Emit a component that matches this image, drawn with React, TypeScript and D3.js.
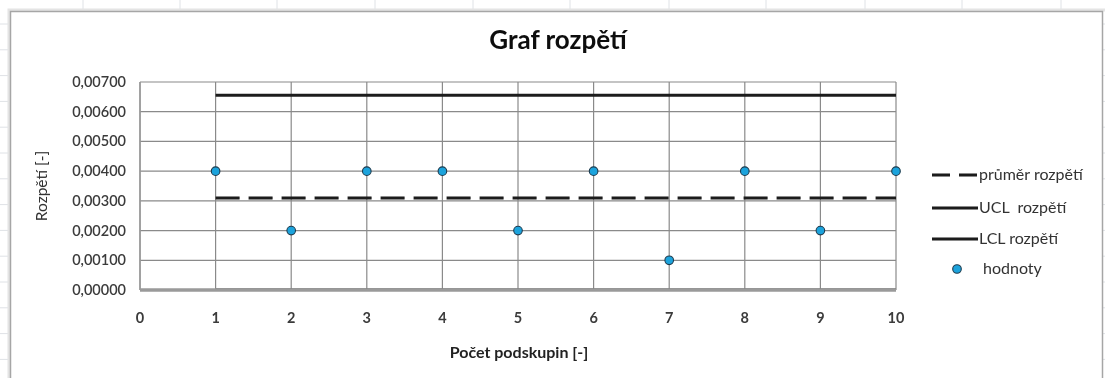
import React from "react";
import * as d3 from "d3";

// Range chart (R chart) of subgroup ranges
const subgroups = [1, 2, 3, 4, 5, 6, 7, 8, 9, 10];
const ranges = [0.004, 0.002, 0.004, 0.004, 0.002, 0.004, 0.001, 0.004, 0.002, 0.004];
const meanRange = 0.0031;
const uclRange = 0.00655;
const lclRange = 0;
const xTicks = [0, 1, 2, 3, 4, 5, 6, 7, 8, 9, 10];
const yTicks = [0, 0.001, 0.002, 0.003, 0.004, 0.005, 0.006, 0.007];
const legendLabels = ["průměr rozpětí", "UCL  rozpětí", "LCL rozpětí", "hodnoty"];

const W = 1105;
const H = 378;
const FONT = "Lato, 'Open Sans', sans-serif";

export default function App() {
  const plot = { left: 140, right: 896, top: 82, bottom: 290 };
  const x = d3.scaleLinear().domain([0, 10]).range([plot.left, plot.right]);
  const y = d3.scaleLinear().domain([0, 0.007]).range([plot.bottom, plot.top]);
  const fmt = (v: number) => v.toFixed(5).replace(".", ",");

  const hline = (v: number) =>
    d3.line<number>().x((d) => x(d)).y(() => y(v))([subgroups[0], subgroups[subgroups.length - 1]]) || "";

  // spreadsheet cell lines behind the chart object
  const colLines = [83, 180, 277, 375, 473, 570, 669, 766, 865, 962, 1061];
  const rowLines = d3.range(24, H, 25.8);

  const legendX1 = 932;
  const legendX2 = 978;
  const legendRows = [175, 208, 239, 269];

  return (
    <svg
      width={W}
      height={H}
      style={{ position: "absolute", left: 0, top: 0, background: "#fff" }}
      fontFamily={FONT}
    >
      <defs>
        <filter id="soft" x="-5%" y="-5%" width="110%" height="110%">
          <feGaussianBlur stdDeviation="0.35" />
        </filter>
        <clipPath id="plotClip">
          <rect x={plot.left} y={plot.top - 5} width={plot.right - plot.left + 5} height={plot.bottom - plot.top + 4} />
        </clipPath>
      </defs>
      {colLines.map((c) => (
        <line key={"c" + c} x1={c} x2={c} y1={0} y2={H} stroke="#dfe2e6" strokeWidth={1} />
      ))}
      {rowLines.map((r, i) => (
        <line key={"r" + i} x1={0} x2={W} y1={r} y2={r} stroke="#dfe2e6" strokeWidth={1} />
      ))}

      {/* chart object */}
      <rect x={9} y={10} width={1100} height={400} fill="none" stroke="#e4e4e4" strokeWidth={3} />
      <rect x={10.5} y={11.5} width={1092} height={400} fill="#fff" stroke="#a6a6a6" strokeWidth={1.5} />

      <g filter="url(#soft)">
        <text x={558} y={49} textAnchor="middle" fontSize={26} fontWeight={700} fill="#111">
          Graf rozpětí
        </text>

        {/* gridlines */}
        {yTicks.map((t) => (
          <line key={"gy" + t} x1={plot.left} x2={plot.right} y1={y(t)} y2={y(t)} stroke="#8a8a8a" strokeWidth={1.2} />
        ))}
        {xTicks.map((t) => (
          <line key={"gx" + t} x1={x(t)} x2={x(t)} y1={plot.top} y2={plot.bottom} stroke="#8a8a8a" strokeWidth={1.2} />
        ))}

        {/* control limits and mean */}
        <path d={hline(uclRange)} stroke="#1a1a1a" strokeWidth={3} fill="none" />
        <g clipPath="url(#plotClip)">
          <path d={hline(lclRange)} stroke="#1a1a1a" strokeWidth={3} fill="none" />
        </g>
        <path d={hline(meanRange)} stroke="#1a1a1a" strokeWidth={3} strokeDasharray="24 9" fill="none" />

        {/* value axis line */}
        <line x1={plot.left} x2={plot.right} y1={plot.bottom} y2={plot.bottom} stroke="#9a9a9a" strokeWidth={3.6} />
        <line x1={plot.left} x2={plot.left} y1={plot.top} y2={plot.bottom} stroke="#9a9a9a" strokeWidth={1.5} />

        {/* points */}
        {subgroups.map((s, i) => (
          <circle key={"p" + s} cx={x(s)} cy={y(ranges[i])} r={4.3} fill="#1ba3dc" stroke="#1d3b4e" strokeWidth={1.1} />
        ))}

        {/* y ticks */}
        {yTicks.map((t) => (
          <text key={"ty" + t} x={126} y={y(t) + 5} textAnchor="end" fontSize={14.5} fontWeight={600} fill="#3b3b3b">
            {fmt(t)}
          </text>
        ))}
        {/* x ticks */}
        {xTicks.map((t) => (
          <text key={"tx" + t} x={x(t)} y={323} textAnchor="middle" fontSize={14.5} fontWeight={700} fill="#3b3b3b">
            {t}
          </text>
        ))}

        <text x={519} y={358} textAnchor="middle" fontSize={16} fontWeight={700} fill="#222">
          Počet podskupin [-]
        </text>
        <text
          transform={`translate(47, ${(plot.top + plot.bottom) / 2}) rotate(-90)`}
          textAnchor="middle"
          fontSize={15.5}
          fill="#333"
        >
          Rozpětí [-]
        </text>

        {/* legend */}
        <line x1={legendX1} x2={legendX2} y1={legendRows[0]} y2={legendRows[0]} stroke="#1a1a1a" strokeWidth={3} strokeDasharray="18 9" />
        <line x1={legendX1} x2={legendX2} y1={legendRows[1]} y2={legendRows[1]} stroke="#1a1a1a" strokeWidth={3} />
        <line x1={legendX1} x2={legendX2} y1={legendRows[2]} y2={legendRows[2]} stroke="#1a1a1a" strokeWidth={3} />
        <circle cx={957} cy={legendRows[3]} r={4.3} fill="#1ba3dc" stroke="#1d3b4e" strokeWidth={1.1} />
        {legendLabels.map((l, i) => (
          <text key={l} x={i === 3 ? 983 : 979} y={legendRows[i] + 5} fontSize={16} fill="#333" style={{ whiteSpace: "pre" }}>
            {l}
          </text>
        ))}
      </g>
    </svg>
  );
}
